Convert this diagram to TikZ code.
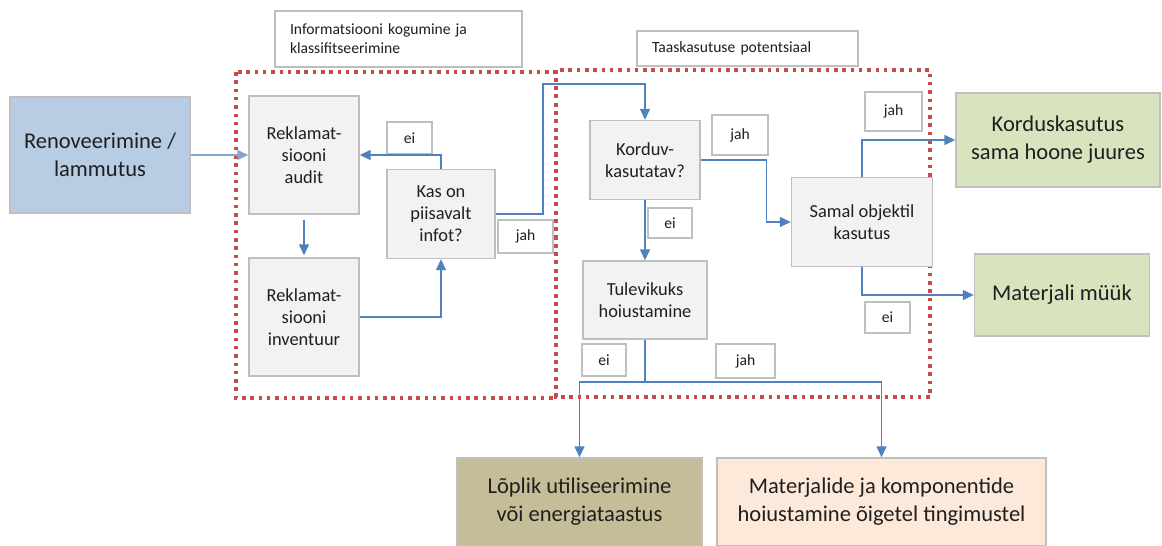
\documentclass[tikz,border=0pt]{standalone}
\usepackage{fontspec}
\setmainfont{Carlito}
\usepackage{tikz}
\usetikzlibrary{arrows.meta}
\definecolor{lineblue}{RGB}{79,129,189}
\definecolor{boxgrey}{RGB}{191,191,191}
\definecolor{redframe}{RGB}{198,76,76}
\definecolor{bluefill}{RGB}{184,204,228}
\definecolor{greenfill}{RGB}{215,228,189}
\definecolor{olivefill}{RGB}{196,189,151}
\definecolor{peachfill}{RGB}{253,233,217}

\begin{document}
\begin{tikzpicture}[
    x=1pt, y=-1pt,
    box/.style={draw=boxgrey, line width=1.4pt, fill=black!5, align=center, inner sep=2pt,
      font=\fontsize{18.4}{22}\selectfont, text=black!88},
    big/.style={box, font=\fontsize{22.5}{28}\selectfont},
    tag/.style={draw=boxgrey, line width=1.2pt, fill=white, align=center, inner sep=1pt,
      font=\fontsize{15.6}{19}\selectfont, text=black!88},
    head/.style={tag, align=left, inner xsep=15pt},
    frame/.style={draw=redframe, line width=3.5pt, dash pattern=on 3.5pt off 4.8pt},
    arr/.style={-{Triangle[length=11pt,width=10pt]}, lineblue, line width=1.4pt}
  ]
    \useasboundingbox (0,0) rectangle (1162,546);

    \draw[frame] (236,72) rectangle (556,398);
    \draw[frame] (556,70) rectangle (930,397);

    \node[head, text width=217pt, minimum height=56pt] (info) at (398.5,39)
      {Informatsiooni kogumine ja\\klassifitseerimine};
    \node[head, text width=191pt, minimum height=35pt] (potent) at (747.5,48.5)
      {Taaskasutuse potentsiaal};

    \node[big, fill=bluefill, minimum width=180pt, minimum height=116pt] (renov) at (100,155)
      {Renoveerimine /\\lammutus};

    \node[box, minimum width=110pt, minimum height=118pt] (audit) at (304,155)
      {Reklamat-\\siooni\\audit};
    \node[box, minimum width=110pt, minimum height=118pt] (inv) at (304,317)
      {Reklamat-\\siooni\\inventuur};
    \node[box, minimum width=108pt, minimum height=89pt] (kas) at (441,214)
      {Kas on\\piisavalt\\infot?};

    \node[box, minimum width=110pt, minimum height=79pt] (korduv) at (645,160)
      {Korduv-\\kasutatav?};
    \node[box, minimum width=124pt, minimum height=78pt] (tulev) at (645,300)
      {Tulevikuks\\hoiustamine};
    \node[box, minimum width=141pt, minimum height=89pt] (samal) at (862,222)
      {Samal objektil\\kasutus};

    \node[big, fill=greenfill, minimum width=204pt, minimum height=94pt] (kordus) at (1058,140)
      {Korduskasutus\\sama hoone juures};
    \node[big, fill=greenfill, minimum width=175pt, minimum height=82pt] (myyk) at (1062,295)
      {Materjali müük};
    \node[big, fill=olivefill, minimum width=245pt, minimum height=88pt] (lopl) at (579.5,502)
      {Lõplik utiliseerimine\\või energiataastus};
    \node[big, fill=peachfill, minimum width=329pt, minimum height=88pt] (mater) at (881.5,502)
      {Materjalide ja komponentide\\hoiustamine õigetel tingimustel};

    \node[tag, minimum width=45pt, minimum height=32pt] (ei1) at (409.5,138) {ei};
    \node[tag, minimum width=55pt, minimum height=33pt] (jah1) at (525.5,236.5) {jah};
    \node[tag, minimum width=56pt, minimum height=40pt] (jah2) at (740,135) {jah};
    \node[tag, minimum width=44pt, minimum height=30pt] (ei2) at (670,223) {ei};
    \node[tag, minimum width=57pt, minimum height=39pt] (jah3) at (893.5,111.5) {jah};
    \node[tag, minimum width=45pt, minimum height=31pt] (ei3) at (887.5,317.5) {ei};
    \node[tag, minimum width=44pt, minimum height=32pt] (ei4) at (604,360) {ei};
    \node[tag, minimum width=59pt, minimum height=34pt] (jah4) at (745.5,361) {jah};

    \coordinate (top) at (543,84);
    \coordinate (split) at (645,382);

    \draw[arr, lineblue!70] (renov.east) -- (audit.west);
    \draw[arr, shorten <=5pt, shorten >=2pt] (audit.south) -- (inv.north);
    \draw[arr] (inv.east) -| (kas.south);
    \draw[arr] (kas.north) |- (audit.east);
    \draw[arr] (kas.east) -| (top) -| (korduv.north);
    \draw[arr] (korduv.east) -- ++(66,0) |- (samal.west);
    \draw[arr] (korduv.south) -- (tulev.north);
    \draw[arr] (samal.north) |- (kordus.west);
    \draw[arr] (samal.south) |- (myyk.west);
    \draw[arr] (tulev.south) -- (split) -| (lopl.north);
    \draw[arr] (split) -| (mater.north);
  \end{tikzpicture}
\end{document}
